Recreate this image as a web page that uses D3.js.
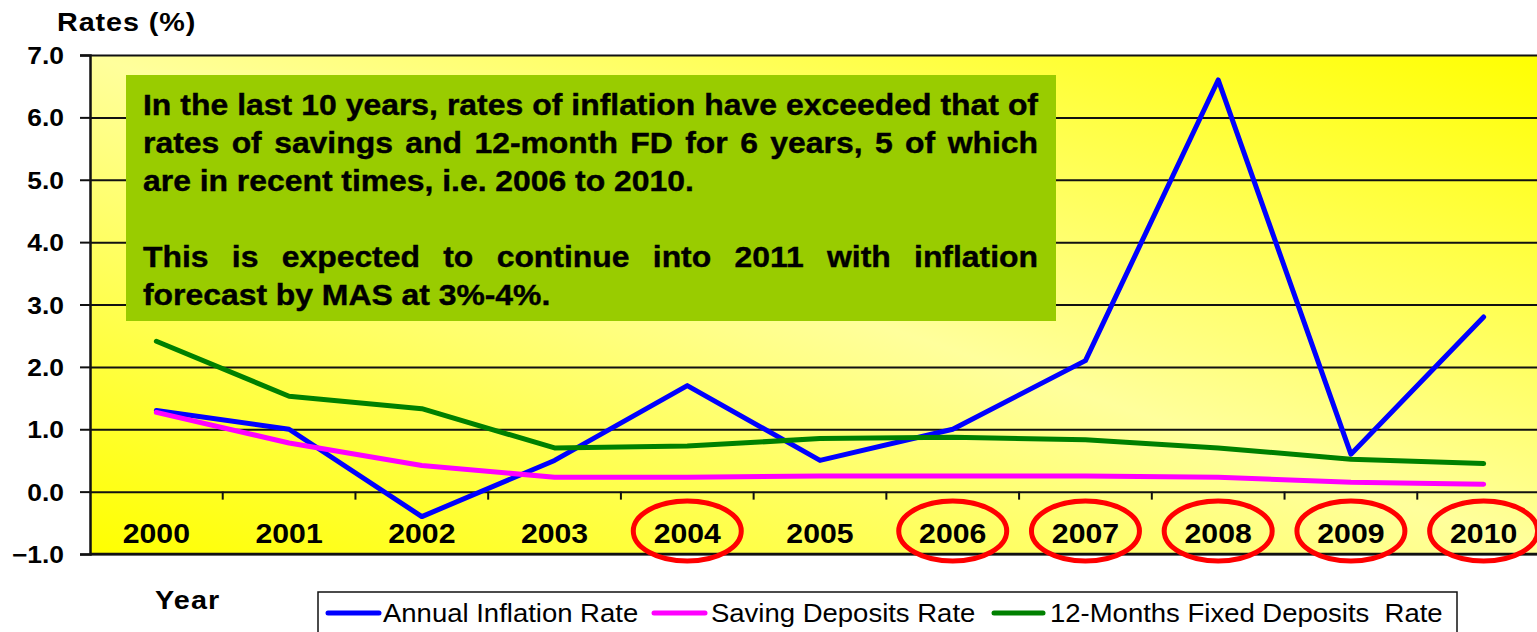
<!DOCTYPE html>
<html>
<head>
<meta charset="utf-8">
<script src="https://cdn.jsdelivr.net/npm/d3@7"></script>
<style>
  body { margin: 0; background: #fff; }
  svg text { font-family: "Liberation Sans", Arial, sans-serif; fill: #000; }
</style>
</head>
<body>
<div id="chart"></div>
<script>
// data
const years = ["2000", "2001", "2002", "2003", "2004", "2005", "2006", "2007", "2008", "2009", "2010"];
const inflation = [1.3, 1.0, -0.4, 0.5, 1.7, 0.5, 1.0, 2.1, 6.6, 0.6, 2.8];
const savings = [1.27, 0.78, 0.42, 0.23, 0.23, 0.25, 0.25, 0.25, 0.23, 0.15, 0.12];
const fixedDeposits = [2.41, 1.53, 1.33, 0.70, 0.73, 0.85, 0.87, 0.83, 0.70, 0.52, 0.45];
const circledYears = ["2004", "2006", "2007", "2008", "2009", "2010"];
const yTicks = [-1, 0, 1, 2, 3, 4, 5, 6, 7];
const seriesNames = ["Annual Inflation Rate", "Saving Deposits Rate", "12-Months Fixed Deposits  Rate"];
const noteLines = [
  "In the last 10 years, rates of inflation have exceeded that of",
  "rates of savings and 12-month FD for 6 years, 5 of which",
  "are in recent times, i.e. 2006 to 2010.",
  "",
  "This is expected to continue into 2011 with inflation",
  "forecast by MAS at 3%-4%."
];

const W = 1537, H = 632;
const margin = {top: 55, left: 90};
const plotW = 1460, plotH = 499;
const stretch = 1.1; // source text is slightly wide

const svg = d3.select("#chart").append("svg")
  .attr("width", W).attr("height", H);

const defs = svg.append("defs");
const grad = defs.append("linearGradient").attr("id", "bg")
  .attr("x1", 0).attr("y1", 1).attr("x2", 1).attr("y2", 0);
grad.append("stop").attr("offset", "0%").attr("stop-color", "#ffff00");
grad.append("stop").attr("offset", "50%").attr("stop-color", "#ffff9c");
grad.append("stop").attr("offset", "100%").attr("stop-color", "#ffff00");

const x = d3.scaleBand().domain(years).range([margin.left, margin.left + plotW]).padding(0);
const y = d3.scaleLinear().domain([-1, 7]).range([margin.top + plotH, margin.top]);
const cx = d => x(d) + x.bandwidth() / 2;

// plot background
svg.append("rect")
  .attr("x", margin.left).attr("y", margin.top)
  .attr("width", plotW).attr("height", plotH)
  .attr("fill", "url(#bg)");

// gridlines
svg.append("g")
  .attr("transform", `translate(${margin.left},0)`)
  .call(d3.axisRight(y).tickValues(yTicks).tickSize(plotW).tickFormat(""))
  .call(g => g.select(".domain").remove())
  .call(g => g.selectAll("line").attr("stroke", "#111").attr("stroke-width", 2));

// y axis
svg.append("g")
  .attr("transform", `translate(${margin.left},0)`)
  .call(d3.axisLeft(y).tickValues(yTicks).tickFormat(d3.format(".1f")).tickSize(10).tickPadding(0))
  .call(g => g.select(".domain").attr("stroke", "#111").attr("stroke-width", 2.5))
  .call(g => g.selectAll(".tick line").attr("stroke", "#111").attr("stroke-width", 2))
  .call(g => g.selectAll(".tick text")
    .attr("x", null).attr("dy", null)
    .attr("transform", `translate(-26,0) scale(${stretch},1)`)
    .attr("dominant-baseline", "central")
    .style("font-size", "24px").style("font-weight", "bold"));

// x axis at zero with ticks between categories
svg.append("g")
  .attr("transform", `translate(0,${y(0)})`)
  .call(d3.axisBottom(x).tickSize(0).tickFormat(""))
  .call(g => g.select(".domain").remove());
svg.append("g").selectAll("line")
  .data(years.slice(1))
  .join("line")
  .attr("x1", d => x(d)).attr("x2", d => x(d))
  .attr("y1", y(0)).attr("y2", y(0) + 8)
  .attr("stroke", "#111").attr("stroke-width", 2);

// bottom border
svg.append("line")
  .attr("x1", margin.left).attr("x2", margin.left + plotW)
  .attr("y1", y(-1)).attr("y2", y(-1))
  .attr("stroke", "#111").attr("stroke-width", 2.5);

// category labels
svg.append("g").selectAll("text")
  .data(years)
  .join("text")
  .attr("transform", d => `translate(${cx(d)},543) scale(1.12,1)`)
  .attr("text-anchor", "middle")
  .style("font-size", "27px").style("font-weight", "bold")
  .text(d => d);

// red circles
svg.append("g").selectAll("ellipse")
  .data(circledYears)
  .join("ellipse")
  .attr("cx", d => cx(d)).attr("cy", 531)
  .attr("rx", 54).attr("ry", 30)
  .attr("fill", "none").attr("stroke", "#ff0000").attr("stroke-width", 5);

// note box
svg.append("rect")
  .attr("x", 126).attr("y", 75).attr("width", 930).attr("height", 246)
  .attr("fill", "#99cc00");

const noteLeft = 143, noteRight = 1038;
const noteG = svg.append("g");
noteLines.forEach((line, i) => {
  if (!line) return;
  const baseY = 115 + i * 38;
  const lastLine = i === noteLines.length - 1 || !noteLines[i + 1];
  const words = line.split(" ");
  const t = noteG.append("text")
    .attr("transform", `translate(${noteLeft},${baseY}) scale(${stretch},1)`)
    .style("font-size", "29px").style("font-weight", "bold")
    .style("stroke", "#000").style("stroke-width", 0.4);
  const spans = words.map(w => t.append("tspan").text(w));
  const widths = spans.map(s => s.node().getComputedTextLength());
  const total = d3.sum(widths);
  const avail = (noteRight - noteLeft) / stretch;
  const space = 8;
  const gap = lastLine ? space : (avail - total) / (words.length - 1);
  let cur = 0;
  spans.forEach((s, k) => { s.attr("x", cur); cur += widths[k] + gap; });
});

// lines
const line = d3.line().x((d, i) => cx(years[i])).y(d => y(d));
const series = [
  {values: inflation, color: "#0000ff"},
  {values: savings, color: "#ff00ff"},
  {values: fixedDeposits, color: "#008000"}
];
svg.append("g").selectAll("path")
  .data(series)
  .join("path")
  .attr("d", d => line(d.values))
  .attr("fill", "none")
  .attr("stroke", d => d.color)
  .attr("stroke-width", 5)
  .attr("stroke-linecap", "round")
  .attr("stroke-linejoin", "round");

// axis titles
svg.append("text")
  .attr("transform", `translate(57,31) scale(1.15,1)`)
  .style("font-size", "25px").style("font-weight", "bold")
  .style("letter-spacing", "0.8px")
  .text("Rates (%)");
svg.append("text")
  .attr("transform", `translate(155,609) scale(1.15,1)`)
  .style("font-size", "25px").style("font-weight", "bold")
  .style("letter-spacing", "1px")
  .text("Year");

// legend
const legend = svg.append("g");
legend.append("rect")
  .attr("x", 318).attr("y", 592).attr("width", 1139).attr("height", 60)
  .attr("fill", "#fff").attr("stroke", "#111").attr("stroke-width", 1.5);
const legendPos = [
  {x1: 328, x2: 379, tx: 383},
  {x1: 654, x2: 705, tx: 711},
  {x1: 994, x2: 1043, tx: 1050}
];
series.forEach((s, i) => {
  const p = legendPos[i];
  legend.append("line")
    .attr("x1", p.x1).attr("x2", p.x2).attr("y1", 613).attr("y2", 613)
    .attr("stroke", s.color).attr("stroke-width", 5).attr("stroke-linecap", "round");
  legend.append("text")
    .attr("transform", `translate(${p.tx},622) scale(${stretch},1)`)
    .style("font-size", "25px")
    .style("white-space", "pre")
    .text(seriesNames[i]);
});
</script>
</body>
</html>
